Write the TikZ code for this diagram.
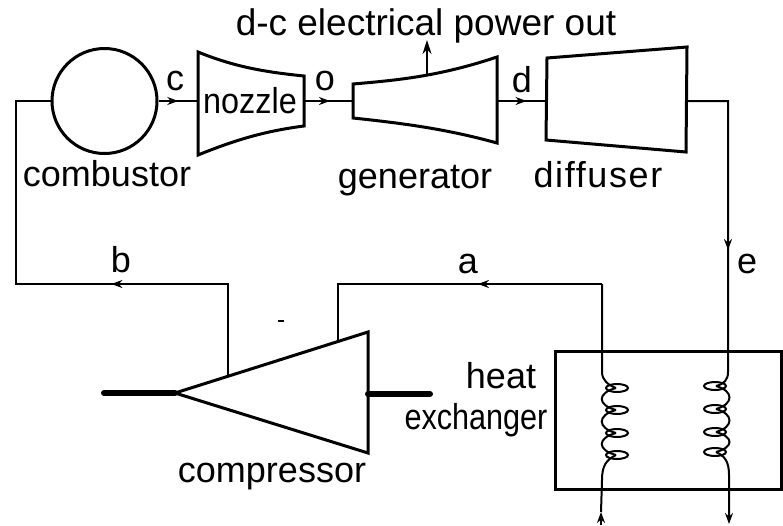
\documentclass[tikz,border=0pt]{standalone}
\usepackage{fontspec}
\setmainfont{Liberation Sans}
\usetikzlibrary{decorations.markings,arrows.meta}
\tikzset{
    lab/.style={anchor=base,inner sep=0pt,font=\fontsize{#1}{#1}\selectfont},
    lab/.default=36,
    part/.style={line width=3pt,line join=miter},
    pipe/.style={line width=2pt},
    shaft/.style={line width=6pt,line cap=round},
    flow/.style={postaction=decorate,decoration={markings,mark=at position #1 with {\arrow{Stealth[length=11pt,width=8pt]}}}},
}
\begin{document}
\begin{tikzpicture}[x=1pt,y=-1pt]
    \useasboundingbox (0,0) rectangle (783,525);

    % parts
    \node [circle, part, draw, minimum size=105pt, inner sep=0pt](comb) at (104.5,101){};
    \coordinate (nozL) at (198,101);
    \coordinate (nozR) at (304,101);
    \coordinate (genL) at (353,101);
    \coordinate (genR) at (497,101);
    \coordinate (genT) at (427,74);
    \coordinate (difL) at (547,101);
    \coordinate (difR) at (687,101);
    \draw[part] (198,52) .. controls (235,67) and (265,72) .. (304,76) -- (304,126) .. controls (265,131) and (235,140) .. (198,155) -- cycle;
    \draw[part] (353,84) .. controls (400,80) and (440,76) .. (497,57) -- (497,143) .. controls (450,130) and (410,124) .. (353,118) -- cycle;
    \draw[part] (547,58) -- (687,47) -- (686,152) -- (546,140) -- cycle;

    \draw[part] (175,393) -- (368,332) -- (368,453) -- cycle;
    \coordinate (cmpB) at (228,376);
    \coordinate (cmpA) at (338,341);
    \coordinate (cmpL) at (175,393);
    \coordinate (cmpR) at (368,394);
    \coordinate (shaftL) at (104,393);
    \coordinate (shaftR) at (430,394);
    \draw[shaft] (shaftL) -- (cmpL);
    \draw[shaft] (cmpR) -- (shaftR);
    \fill (278,319.5) rectangle (284,321.5);

    \node [rectangle, part, draw, minimum width=226pt, minimum height=138pt, inner sep=0pt](hx) at (668,420){};

    % text
    \node [lab] (combL) at (107,186){combustor};
    \node [lab] (nozL2) at (250,113){\addfontfeature{FakeStretch=0.9}nozzle};
    \node [lab] (genL2) at (415,188){generator};
    \node [lab] (difL2) at (598,187){\addfontfeature{LetterSpace=4.5}diffuser};
    \node [lab] (cmpL2) at (272,482){compressor};
    \node [lab] (heatL) at (501,388){heat};
    \node [lab] (exchL) at (476,429){\addfontfeature{FakeStretch=0.85}exchanger};
    \node [lab=37] (powL) at (426,35){d-c electrical power out};
    \node [lab] (cL) at (175,90){c};
    \node [lab] (oL) at (325,90){o};
    \node [lab] (dL) at (522,92){d};
    \node [lab] (bL) at (121,272){b};
    \node [lab] (aL) at (468,273){a};
    \node [lab] (eL) at (747,273){e};

    % pipes
    \coordinate (pL) at (16,101);
    \coordinate (pB) at (16,284);
    \coordinate (pC) at (228,284);
    \coordinate (pD) at (338,284);
    \coordinate (pE) at (602,284);
    \coordinate (pF) at (728,101);
    \coordinate (coilB) at (728,372);
    \coordinate (outA) at (601,525);
    \coordinate (outAm) at (601,512);
    \coordinate (outB) at (729,524);

    \draw[pipe,flow=0.5] (comb.east) -- (nozL);
    \draw[pipe,flow=0.53] (nozR) -- (genL);
    \draw[pipe,flow=0.59] (genR) -- (difL);
    \draw[pipe] (comb.west) -- (pL) -- (pB) -- (pC) -- (cmpB);
    \draw[pipe,flow=0.55] (pC) -- (pB);
    \draw[pipe] (cmpA) -- (pD) -- (pE);
    \draw[pipe,flow=0.47] (pE) -- (pD);
    \draw[pipe] (pE) -- (602,372) .. controls (602,380) and (608,385) .. (616,388);
    \draw[pipe] (difR) -- (pF) -- (coilB) .. controls (728,380) and (724,384) .. (716,386);
    \draw[pipe,flow=0.55] (pF) -- (coilB);
    \draw[-{Stealth[length=14pt,width=9pt]},line width=2.2pt] (genT) -- (427,40);

    % coils
    \foreach \y in {388,410,433,455}
        \draw[pipe] (617,\y) ellipse [x radius=11, y radius=4];
    \foreach \y/\z in {388/410,410/433,433/455}
        \draw[pipe] (616,\y) .. controls (597,\y+5) and (597,\z-5) .. (616,\z);
    \foreach \y in {386,409,432,452}
        \draw[pipe] (715,\y) ellipse [x radius=11, y radius=4];
    \foreach \y/\z in {386/409,409/432,432/452}
        \draw[pipe] (716,\y) .. controls (734,\y+5) and (734,\z-5) .. (716,\z);
    \draw[pipe] (616,455) .. controls (606,460) and (602,466) .. (602,480) -- (outAm);
    \draw[pipe,-{Stealth[length=11pt,width=8pt]}] (outA) -- (outAm);
    \draw[pipe,-{Stealth[length=11pt,width=8pt]}] (716,452) .. controls (725,456) and (729,462) .. (729,475) -- (outB);
\end{tikzpicture}
\end{document}
